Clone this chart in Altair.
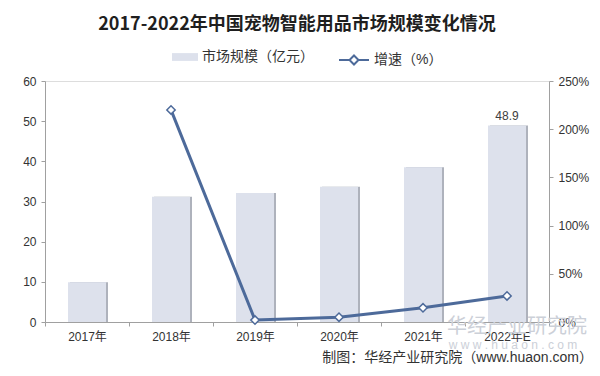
import altair as alt
import pandas as pd

years = ["2017年", "2018年", "2019年", "2020年", "2021年", "2022年E"]
market_size = [9.9, 31.2, 32.1, 33.7, 38.5, 48.9]
growth = [None, 220.0, 2.0, 5.0, 14.7, 27.0]
bar_series = "市场规模（亿元）"
line_series = "增速（%）"
title_text = "2017-2022年中国宠物智能用品市场规模变化情况"
source_text = "制图：华经产业研究院（www.huaon.com）"
watermark_cn = "华经产业研究院"
watermark_en = "w w w . h u a o n . c o m"

df = pd.DataFrame({"year": years, "size": market_size, "growth": growth})
df["bs"] = bar_series
df["ls"] = line_series

FONT = "Liberation Sans, Noto Sans CJK SC, sans-serif"
BAR_COLOR = "#dde1ec"
SHADOW = "#aeb2bc"
LINE_COLOR = "#4d6a9a"

x_enc = alt.X("year:N", sort=years, title=None,
              scale=alt.Scale(paddingInner=0, paddingOuter=0),
              axis=alt.Axis(labelAngle=0, tickBand="extent", tickSize=4,
                            labelPadding=5, domainColor="#a0a0a0", tickColor="#a0a0a0",
                            labelFontSize=12, labelColor="#333333"))

left_axis = alt.Axis(values=[0, 10, 20, 30, 40, 50, 60], grid=False, tickSize=4,
                     domainColor="#a0a0a0", tickColor="#a0a0a0", labelFontSize=12,
                     labelColor="#333333", labelPadding=5)
y_left = alt.Y("size:Q", scale=alt.Scale(domain=[0, 60]), title=None, axis=left_axis)

base = alt.Chart(df)

shadow = base.mark_bar(size=38, color=SHADOW, xOffset=2).encode(x=x_enc, y=y_left)
bars = base.mark_bar(size=38).encode(
    x=x_enc, y=y_left,
    color=alt.Color("bs:N", scale=alt.Scale(domain=[bar_series], range=[BAR_COLOR]),
                    legend=alt.Legend(title=None, orient="none", legendX=127, legendY=-37,
                                      symbolType="M-1,-0.3H1V0.3H-1Z", symbolSize=676,
                                      symbolStrokeWidth=0, labelFontSize=14, labelColor="#333333",
                                      padding=0, labelFont=FONT)))
label = base.mark_text(dy=-10, fontSize=12, color="#404040", font=FONT).transform_filter(
    alt.datum.year == "2022年E").encode(x=x_enc, y=y_left, text=alt.Text("size:Q", format=".1f"))

bar_layer = alt.layer(shadow, bars, label)

right_axis = alt.Axis(orient="right", values=[0, 50, 100, 150, 200, 250], grid=False,
                      tickSize=4, domainColor="#a0a0a0", tickColor="#a0a0a0", labelFontSize=12,
                      labelColor="#333333", labelPadding=5, labelExpr="datum.value + '%'")
y_right = alt.Y("growth:Q", scale=alt.Scale(domain=[0, 250]), title=None, axis=right_axis)

line = base.mark_line(strokeWidth=3).transform_filter("isValid(datum.growth)").encode(
    x=x_enc, y=y_right,
    stroke=alt.Stroke("ls:N", scale=alt.Scale(domain=[line_series], range=[LINE_COLOR]),
                      legend=alt.Legend(title=None, orient="none", legendX=293, legendY=-37,
                                        symbolType="M-1,0H-0.3M0.3,0H1M0,-0.3L0.3,0L0,0.3L-0.3,0Z",
                                        symbolSize=900, symbolStrokeWidth=2,
                                        symbolFillColor="white", labelFontSize=14,
                                        labelColor="#333333", padding=0, labelFont=FONT)))
points = base.mark_point(shape="diamond", filled=True, fill="white", stroke=LINE_COLOR,
                         strokeWidth=1.5, size=70, opacity=1).transform_filter(
    "isValid(datum.growth)").encode(x=x_enc, y=y_right)

line_layer = alt.layer(line, points)

one = pd.DataFrame({"a": [1]})
wm1 = alt.Chart(one).mark_text(text=watermark_cn, fontSize=20, color="#ccd0d8", font=FONT,
                               align="center", baseline="middle").encode(
    x=alt.value(472), y=alt.value(246))
wm2 = alt.Chart(one).mark_text(text=watermark_en, fontSize=12, color="#ccd0d8", font=FONT,
                               align="center", baseline="middle").encode(
    x=alt.value(468), y=alt.value(264))
src = alt.Chart(one).mark_text(text=source_text, fontSize=14, color="#333333", font=FONT,
                               align="right", baseline="middle").encode(
    x=alt.value(548), y=alt.value(277))

chart = alt.layer(wm1, wm2, bar_layer, line_layer, src).resolve_scale(
    y="independent", color="independent", stroke="independent"
).properties(
    width=504, height=241,
    title=alt.TitleParams(title_text, fontSize=18, fontWeight="bold", color="#1f1f1f",
                          font="Noto Sans CJK SC", anchor="middle", offset=10),
    autosize=alt.AutoSizeParams(type="none"),
    padding={"left": 37, "top": 73, "right": 43, "bottom": 46},
    background="white",
).configure_view(stroke=None).configure(font=FONT).configure_axis(labelFont=FONT)

chart.save("out.html", embed_options={"renderer": "svg", "actions": False})
